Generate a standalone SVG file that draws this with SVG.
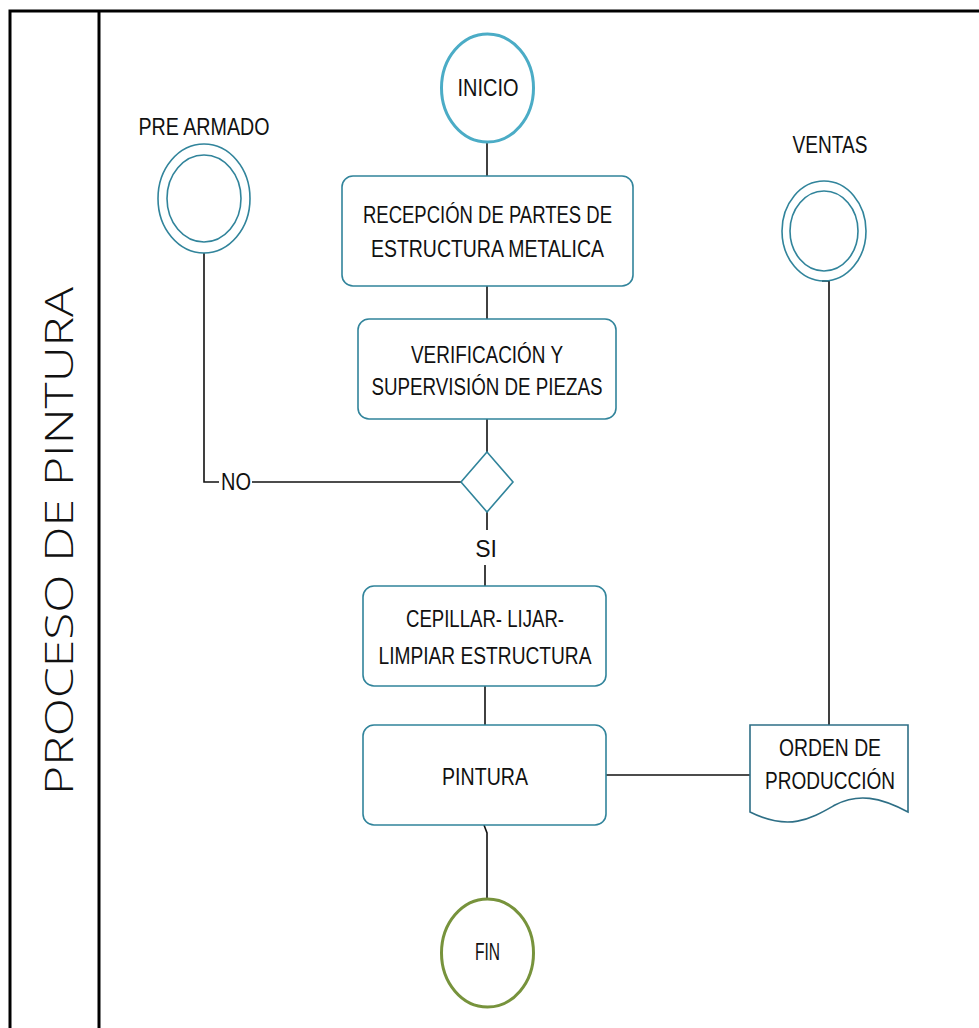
<svg xmlns="http://www.w3.org/2000/svg" width="979" height="1028" viewBox="0 0 979 1028">
  <style>
    .lbl { font-family: "Liberation Sans", Arial, sans-serif; font-size: 23px; fill: #111; text-anchor: middle; }
    .box { fill: #fff; stroke: #31849b; stroke-width: 1.6; }
    .ring { fill: none; stroke: #31849b; stroke-width: 1.6; }
    .wire { fill: none; stroke: #111; stroke-width: 1.6; }
    .frame { fill: none; stroke: #000; stroke-width: 3; }
  </style>
  <rect width="979" height="1028" fill="#fff"/>

  <!-- swimlane frame -->
  <g id="lane">
    <path class="frame" d="M10,1028 V11 H979"/>
    <path class="frame" d="M99,11 V1028"/>
    <text transform="translate(73,541) rotate(-90)" text-anchor="middle" font-family="'Open Sans', 'Liberation Sans', sans-serif" font-weight="300" font-size="38" fill="#111" textLength="508" lengthAdjust="spacingAndGlyphs">PROCESO DE PINTURA</text>
  </g>

  <!-- connectors -->
  <g id="connectors">
    <path class="wire" d="M487,143 V176"/>
    <path class="wire" d="M487,286 V319"/>
    <path class="wire" d="M487,419 V453"/>
    <path class="wire" d="M487,512 V530"/>
    <path class="wire" d="M485,565 V586"/>
    <path class="wire" d="M485,686 V725"/>
    <path class="wire" d="M484,825 L487,833 V898"/>
    <path class="wire" d="M204,253 V482 H219"/>
    <path class="wire" d="M252,482 H461"/>
    <path class="wire" d="M822,281 H829 V725"/>
    <path class="wire" d="M606,775 H750"/>
    <text class="lbl" x="236" y="490" font-size="21" textLength="30" lengthAdjust="spacingAndGlyphs">NO</text>
    <text class="lbl" x="486" y="557" font-size="21">SI</text>
  </g>

  <g id="inicio">
    <ellipse cx="487.5" cy="88" rx="46" ry="54" fill="#fff" stroke="#4bacc6" stroke-width="3"/>
    <text class="lbl" x="488" y="96" font-size="22" textLength="61" lengthAdjust="spacingAndGlyphs">INICIO</text>
  </g>

  <g id="recepcion">
    <rect class="box" x="342" y="176" width="291" height="110" rx="11"/>
    <text class="lbl" x="487.5" y="223" textLength="249" lengthAdjust="spacingAndGlyphs">RECEPCIÓN DE PARTES DE</text>
    <text class="lbl" x="487.5" y="257" textLength="233" lengthAdjust="spacingAndGlyphs">ESTRUCTURA METALICA</text>
  </g>

  <g id="verificacion">
    <rect class="box" x="358" y="319" width="258" height="100" rx="11"/>
    <text class="lbl" x="487" y="363" textLength="152" lengthAdjust="spacingAndGlyphs">VERIFICACIÓN Y</text>
    <text class="lbl" x="487" y="395" textLength="231" lengthAdjust="spacingAndGlyphs">SUPERVISIÓN DE PIEZAS</text>
  </g>

  <g id="decision">
    <polygon points="487,452 513,482 487,512 461,482" fill="#fff" stroke="#31849b" stroke-width="1.6"/>
  </g>

  <g id="pre-armado">
    <text class="lbl" x="204" y="135" textLength="131" lengthAdjust="spacingAndGlyphs">PRE ARMADO</text>
    <ellipse class="ring" cx="204" cy="198.5" rx="46" ry="54.5"/>
    <ellipse class="ring" cx="204" cy="198.5" rx="37" ry="43.5"/>
  </g>

  <g id="ventas">
    <text class="lbl" x="830" y="153" textLength="75" lengthAdjust="spacingAndGlyphs">VENTAS</text>
    <ellipse class="ring" cx="824" cy="231" rx="42" ry="50"/>
    <ellipse class="ring" cx="824" cy="231" rx="34" ry="40"/>
  </g>

  <g id="cepillar">
    <rect class="box" x="363" y="586" width="243" height="100" rx="11"/>
    <text class="lbl" x="485" y="627" textLength="158" lengthAdjust="spacingAndGlyphs">CEPILLAR- LIJAR-</text>
    <text class="lbl" x="485" y="664" textLength="213" lengthAdjust="spacingAndGlyphs">LIMPIAR ESTRUCTURA</text>
  </g>

  <g id="pintura">
    <rect class="box" x="363" y="725" width="243" height="100" rx="11"/>
    <text class="lbl" x="485" y="785" textLength="86" lengthAdjust="spacingAndGlyphs">PINTURA</text>
  </g>

  <g id="orden">
    <path d="M750,725 H908 V812 C880,797 858,793 835,805 C812,818 790,832 750,812 Z" fill="#fff" stroke="#2e6f86" stroke-width="1.6"/>
    <text class="lbl" x="830" y="756" textLength="102" lengthAdjust="spacingAndGlyphs">ORDEN DE</text>
    <text class="lbl" x="830" y="789" textLength="130" lengthAdjust="spacingAndGlyphs">PRODUCCIÓN</text>
  </g>

  <g id="fin">
    <ellipse cx="487.5" cy="953" rx="46" ry="54" fill="#fff" stroke="#77933c" stroke-width="3"/>
    <text class="lbl" x="487.5" y="960" font-size="15" textLength="25" lengthAdjust="spacingAndGlyphs">FIN</text>
  </g>
</svg>
